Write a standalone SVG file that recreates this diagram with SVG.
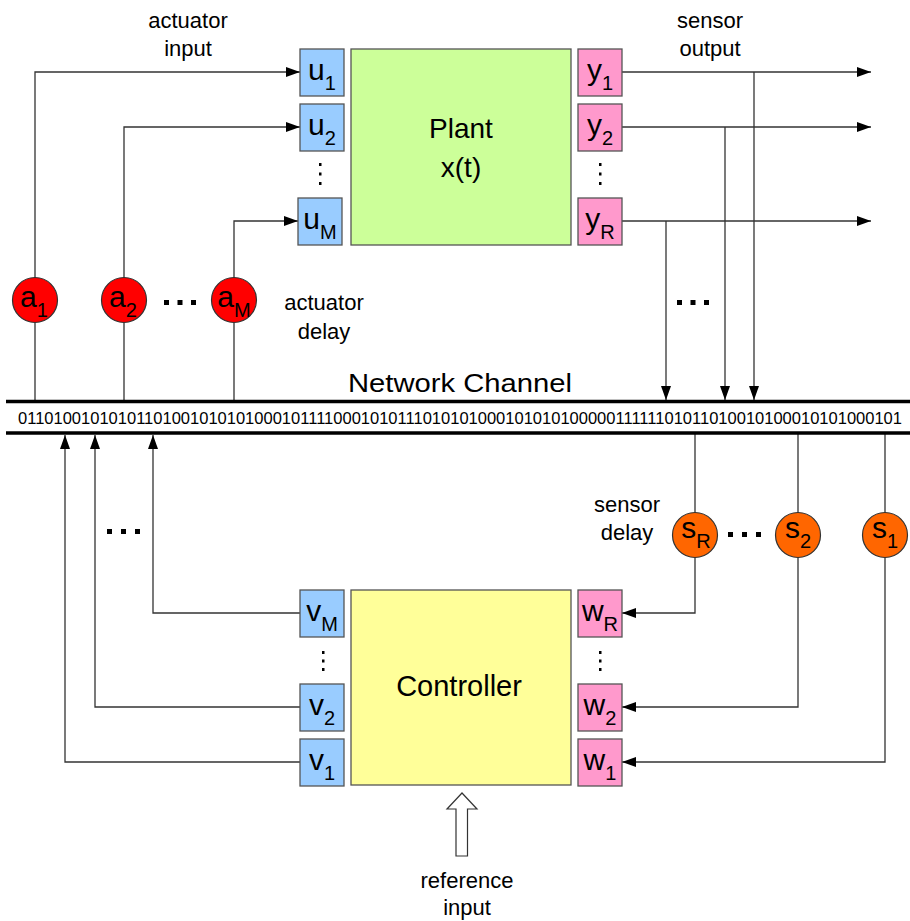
<svg xmlns="http://www.w3.org/2000/svg" width="910" height="921" viewBox="0 0 910 921">
<defs>
<marker id="arr" markerUnits="userSpaceOnUse" markerWidth="14" markerHeight="10" refX="14" refY="5" orient="auto">
<path d="M0,0 L14,5 L0,10 z" fill="#000"/>
</marker>
<style>
text{font-family:"Liberation Sans",Arial,sans-serif;fill:#000}
.lbl{font-size:30px;text-anchor:middle}
.sub{font-size:20px}
.cap{font-size:22px;text-anchor:middle}
.big{font-size:28px;text-anchor:middle}
.bu{fill:#99CCFF;stroke:#555;stroke-width:1.3}
.pk{fill:#FF99CC;stroke:#555;stroke-width:1.3}
.ln{fill:none;stroke:#333;stroke-width:1.3}
.la{fill:none;stroke:#333;stroke-width:1.3;marker-end:url(#arr)}
.ac{fill:#FF0000;stroke:#333;stroke-width:1.2}
.sc{fill:#FF6600;stroke:#333;stroke-width:1.2}
.dot{fill:#000}
</style>
</defs>
<rect width="910" height="921" fill="#fff"/>

<g id="connectors">
<path class="la" d="M35,400 V72 H300"/>
<path class="la" d="M124,400 V127 H300"/>
<path class="la" d="M234,400 V221 H298"/>
<path class="la" d="M622,72 H871"/>
<path class="la" d="M622,127 H871"/>
<path class="la" d="M622,221 H871"/>
<path class="la" d="M754,72 V400"/>
<path class="la" d="M725,127 V400"/>
<path class="la" d="M666,221 V400"/>
<path class="la" d="M300,762 H65 V435"/>
<path class="la" d="M300,707 H95 V435"/>
<path class="la" d="M300,613 H153 V435"/>
<path class="la" d="M695,434 V613 H622"/>
<path class="la" d="M798,434 V707 H622"/>
<path class="la" d="M885,434 V762 H622"/>
</g>

<g id="network">
<line x1="6" y1="401.5" x2="910" y2="401.5" stroke="#000" stroke-width="3.5"/>
<line x1="6" y1="433" x2="910" y2="433" stroke="#000" stroke-width="3.5"/>
<text x="460" y="392" style="font-size:25px;text-anchor:middle" textLength="224" lengthAdjust="spacingAndGlyphs">Network Channel</text>
<text x="18" y="424" style="font-size:16.5px" textLength="884" lengthAdjust="spacingAndGlyphs">01101001010101101001010101000101111000101011101010100010101010000011111101011010010100010101000101</text>
</g>

<g id="plant">
<rect x="351" y="49" width="220" height="196" fill="#CCFF99" stroke="#555" stroke-width="1.3"/>
<text class="big" x="461" y="138">Plant</text>
<text class="big" x="461" y="177">x(t)</text>
</g>

<g id="controller">
<rect x="351" y="590" width="220" height="195" fill="#FFFF99" stroke="#555" stroke-width="1.3"/>
<text class="big" x="459" y="696" style="font-size:29px">Controller</text>
</g>

<g id="u1"><rect class="bu" x="300" y="49" width="44" height="47"/><text class="lbl" x="322" y="80">u<tspan class="sub" dy="10">1</tspan></text></g>
<g id="u2"><rect class="bu" x="300" y="104" width="44" height="47"/><text class="lbl" x="322" y="135">u<tspan class="sub" dy="10">2</tspan></text></g>
<g id="uM"><rect class="bu" x="298" y="198" width="44" height="47"/><text class="lbl" x="320" y="229">u<tspan class="sub" dy="10">M</tspan></text></g>

<g id="y1"><rect class="pk" x="578" y="49" width="44" height="47"/><text class="lbl" x="600" y="80">y<tspan class="sub" dy="10">1</tspan></text></g>
<g id="y2"><rect class="pk" x="578" y="104" width="44" height="47"/><text class="lbl" x="600" y="135">y<tspan class="sub" dy="10">2</tspan></text></g>
<g id="yR"><rect class="pk" x="578" y="198" width="44" height="47"/><text class="lbl" x="600" y="229">y<tspan class="sub" dy="10">R</tspan></text></g>

<g id="vM"><rect class="bu" x="300" y="590" width="44" height="47"/><text class="lbl" x="322" y="621">v<tspan class="sub" dy="10">M</tspan></text></g>
<g id="v2"><rect class="bu" x="300" y="684" width="44" height="47"/><text class="lbl" x="322" y="715">v<tspan class="sub" dy="10">2</tspan></text></g>
<g id="v1"><rect class="bu" x="300" y="739" width="44" height="47"/><text class="lbl" x="322" y="770">v<tspan class="sub" dy="10">1</tspan></text></g>

<g id="wR"><rect class="pk" x="578" y="590" width="44" height="47"/><text class="lbl" x="600" y="621">w<tspan class="sub" dy="10">R</tspan></text></g>
<g id="w2"><rect class="pk" x="578" y="684" width="44" height="47"/><text class="lbl" x="600" y="715">w<tspan class="sub" dy="10">2</tspan></text></g>
<g id="w1"><rect class="pk" x="578" y="739" width="44" height="47"/><text class="lbl" x="600" y="770">w<tspan class="sub" dy="10">1</tspan></text></g>

<g id="a1"><circle class="ac" cx="35" cy="300" r="22.5"/><text class="lbl" x="34" y="307">a<tspan class="sub" dy="10">1</tspan></text></g>
<g id="a2"><circle class="ac" cx="124" cy="300" r="22.5"/><text class="lbl" x="123" y="307">a<tspan class="sub" dy="10">2</tspan></text></g>
<g id="aM"><circle class="ac" cx="234" cy="300" r="22.5"/><text class="lbl" x="234" y="307">a<tspan class="sub" dy="10">M</tspan></text></g>

<g id="sR"><circle class="sc" cx="695" cy="535" r="22.5"/><text class="lbl" x="696" y="538">s<tspan class="sub" dy="10">R</tspan></text></g>
<g id="s2"><circle class="sc" cx="798" cy="535" r="22.5"/><text class="lbl" x="798" y="538">s<tspan class="sub" dy="10">2</tspan></text></g>
<g id="s1"><circle class="sc" cx="885" cy="535" r="22.5"/><text class="lbl" x="885" y="538">s<tspan class="sub" dy="10">1</tspan></text></g>

<g id="ellipses">
<rect class="dot" x="164" y="300" width="5" height="5"/><rect class="dot" x="177.5" y="300" width="5" height="5"/><rect class="dot" x="191" y="300" width="5" height="5"/>
<rect class="dot" x="677" y="300" width="5" height="5"/><rect class="dot" x="690.5" y="300" width="5" height="5"/><rect class="dot" x="704" y="300" width="5" height="5"/>
<rect class="dot" x="107" y="529" width="5" height="5"/><rect class="dot" x="121" y="529" width="5" height="5"/><rect class="dot" x="135" y="529" width="5" height="5"/>
<rect class="dot" x="728" y="532" width="5" height="5"/><rect class="dot" x="742" y="532" width="5" height="5"/><rect class="dot" x="756" y="532" width="5" height="5"/>
<rect class="dot" x="319" y="163" width="2.5" height="3"/><rect class="dot" x="319" y="172.5" width="2.5" height="3"/><rect class="dot" x="319" y="182" width="2.5" height="3"/>
<rect class="dot" x="599" y="163" width="2.5" height="3"/><rect class="dot" x="599" y="172.5" width="2.5" height="3"/><rect class="dot" x="599" y="182" width="2.5" height="3"/>
<rect class="dot" x="322" y="651" width="2.5" height="3"/><rect class="dot" x="322" y="659.5" width="2.5" height="3"/><rect class="dot" x="322" y="668" width="2.5" height="3"/>
<rect class="dot" x="599" y="651" width="2.5" height="3"/><rect class="dot" x="599" y="659.5" width="2.5" height="3"/><rect class="dot" x="599" y="668" width="2.5" height="3"/>
</g>

<g id="reference-input">
<path d="M462,793 L477,809 H467.5 V856 H456 V809 H447 Z" fill="#fff" stroke="#333" stroke-width="1.2"/>
<text class="cap" x="467" y="888">reference</text>
<text class="cap" x="467" y="915">input</text>
</g>

<g id="labels">
<text class="cap" x="188" y="28">actuator</text>
<text class="cap" x="188" y="56">input</text>
<text class="cap" x="710" y="28">sensor</text>
<text class="cap" x="710" y="56">output</text>
<text class="cap" x="324" y="310">actuator</text>
<text class="cap" x="324" y="339">delay</text>
<text class="cap" x="627" y="512">sensor</text>
<text class="cap" x="627" y="540">delay</text>
</g>
</svg>
